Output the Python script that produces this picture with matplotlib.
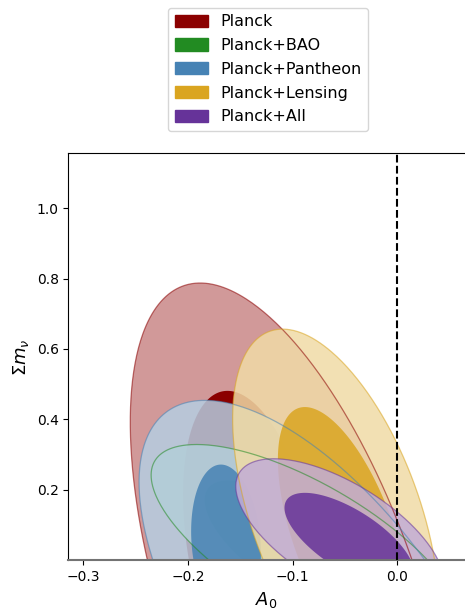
import numpy as np
import matplotlib
matplotlib.use("Agg")
import matplotlib.pyplot as plt
from matplotlib.colors import to_rgb
from matplotlib.patches import Patch

labels = ["Planck", "Planck+BAO", "Planck+Pantheon", "Planck+Lensing", "Planck+All"]
colors = ["darkred", "forestgreen", "steelblue", "goldenrod", "rebeccapurple"]

# 95% contours: centre, spread in A0 and sum m_nu, correlation
c95_a0 = [-0.0994, -0.0866, -0.0658, -0.0587, -0.0548]
c95_mnu = [-0.1328, 0.0318, -0.2131, 0.1300, 0.0739]
s95_a0 = [0.1555, 0.1484, 0.1807, 0.0985, 0.0994]
s95_mnu = [0.9202, 0.2969, 0.6672, 0.5264, 0.2143]
rho95 = [-0.571, -0.707, -0.652, -0.516, -0.636]

# 68% contours
c68_a0 = [-0.1379, -0.1175, -0.1635, -0.0514, -0.0458]
c68_mnu = [0.0191, 0.0608, 0.0495, 0.0722, 0.0566]
s68_a0 = [0.0666, 0.0665, 0.0333, 0.0626, 0.0619]
s68_mnu = [0.4620, 0.1660, 0.2222, 0.3629, 0.1348]
rho68 = [-0.364, -0.666, -0.147, -0.588, -0.685]

xticks = [-0.3, -0.2, -0.1, 0.0]
yticks = [0.2, 0.4, 0.6, 0.8, 1.0]


def ellipse(cx, cy, sx, sy, rho, n=500):
    t = np.linspace(0, 2 * np.pi, n)
    x = cx + sx * np.cos(t)
    y = cy + sy * (rho * np.cos(t) + np.sqrt(1 - rho ** 2) * np.sin(t))
    return x, y


def lighten(c, f=0.4):
    return tuple(f * np.array(to_rgb(c)) + (1 - f))


fig = plt.figure(figsize=(4.65, 6.12), dpi=100)
ax = fig.add_axes([0.147, 0.0846, 0.853, 0.665])

outlines = []
for i, col in enumerate(colors):
    a = 1.0 if i == 0 else 0.85
    x, y = ellipse(c95_a0[i], c95_mnu[i], s95_a0[i], s95_mnu[i], rho95[i])
    ax.fill(x, y, color=lighten(col), alpha=a, lw=0, zorder=1)
    outlines.append((x, y, col))
    x, y = ellipse(c68_a0[i], c68_mnu[i], s68_a0[i], s68_mnu[i], rho68[i])
    ax.fill(x, y, color=col, alpha=a, lw=0, zorder=1)

for x, y, col in outlines:
    ax.plot(x, y, color=col, alpha=0.55, lw=0.9, zorder=2)

ax.axvline(0, color="black", ls="--", lw=1.5, zorder=3)

ax.set_xlim(-0.314, 0.0646)
ax.set_ylim(0, 1.156)
ax.set_xticks(xticks)
ax.set_yticks(yticks)
ax.tick_params(labelsize=10)
ax.set_xlabel(r"$A_0$", fontsize=13)
ax.set_ylabel(r"$\Sigma m_\nu$", fontsize=13)
ax.spines["right"].set_visible(False)
ax.spines["bottom"].set_color("0.45")
ax.spines["bottom"].set_linewidth(1.5)

handles = [Patch(facecolor=c, edgecolor=c) for c in colors]
fig.legend(handles, labels, loc="upper center", bbox_to_anchor=(0.577, 0.987),
           borderaxespad=0, fontsize=11.5, labelspacing=0.55,
           handlelength=2.1, handleheight=0.8)

fig.savefig("out.png", dpi=100)
